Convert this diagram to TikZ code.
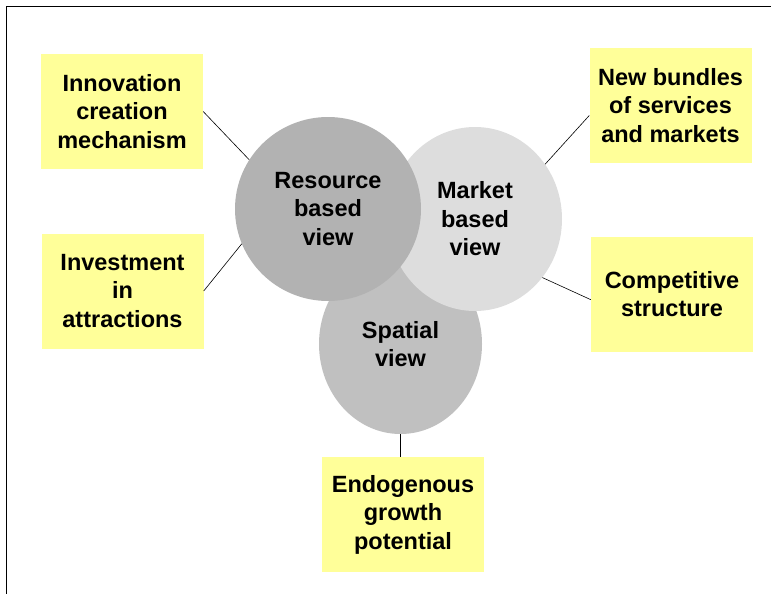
\documentclass[tikz,border=0pt]{standalone}
\usepackage{fontspec}
\setmainfont{Liberation Sans}
\usepackage{tikz}
\usetikzlibrary{shapes.geometric}

\definecolor{notepad}{HTML}{FFFF99}
\definecolor{resgray}{HTML}{B2B2B2}
\definecolor{mktgray}{HTML}{DDDDDD}
\definecolor{spagray}{HTML}{C0C0C0}

\begin{document}
\begin{tikzpicture}[x=1pt,y=-1pt,
    viewtext/.style={font=\bfseries\fontsize{23.5}{28.5}\selectfont, align=center, text=black},
    view/.style={ellipse, inner sep=0pt, viewtext},
    topic/.style={rectangle, fill=notepad, minimum width=162pt, minimum height=115pt, inner sep=0pt, viewtext},
    link/.style={draw=black, line width=0.6pt}]
    \useasboundingbox (0,0) rectangle (771,594);
    % Frame (top and left only)
    \draw[line width=1.3pt] (6.5,594) -- (6.5,6.5) -- (771,6.5);
    % Views (spatial at the back, resource on top)
    \node[view, fill=spagray, minimum width=163pt, minimum height=180pt] (spatial) at (400.5,344) {Spatial\\view};
    \node[view, fill=mktgray, minimum width=174pt, minimum height=184pt] (market) at (475,219) {Market\\based\\view};
    \node[view, fill=resgray, minimum width=186pt, minimum height=184pt] (resource) at (328,209) {Resource\\based\\view};
    % Topics around the views
    \node[topic] (innov) at (122,111.5) {Innovation\\creation\\mechanism};
    \node[topic] (invest) at (122.5,291) {Investment\\in\\attractions};
    \node[topic] (bundles) at (670.5,105.5) {New bundles\\of services\\and markets};
    \node[topic] (compet) at (672,294) {Competitive\\structure};
    \node[topic] (endog) at (403,514.5) {Endogenous\\growth\\potential};
    % Links
    \draw[link] (innov.east) -- (resource.148);
    \draw[link] (invest.east) -- (resource.202);
    \draw[link] (bundles.187) -- (market.38);
    \draw[link] (compet.184) -- (market.-41);
    \draw[link] (spatial.south) -- (spatial.south |- endog.north);
\end{tikzpicture}
\end{document}
